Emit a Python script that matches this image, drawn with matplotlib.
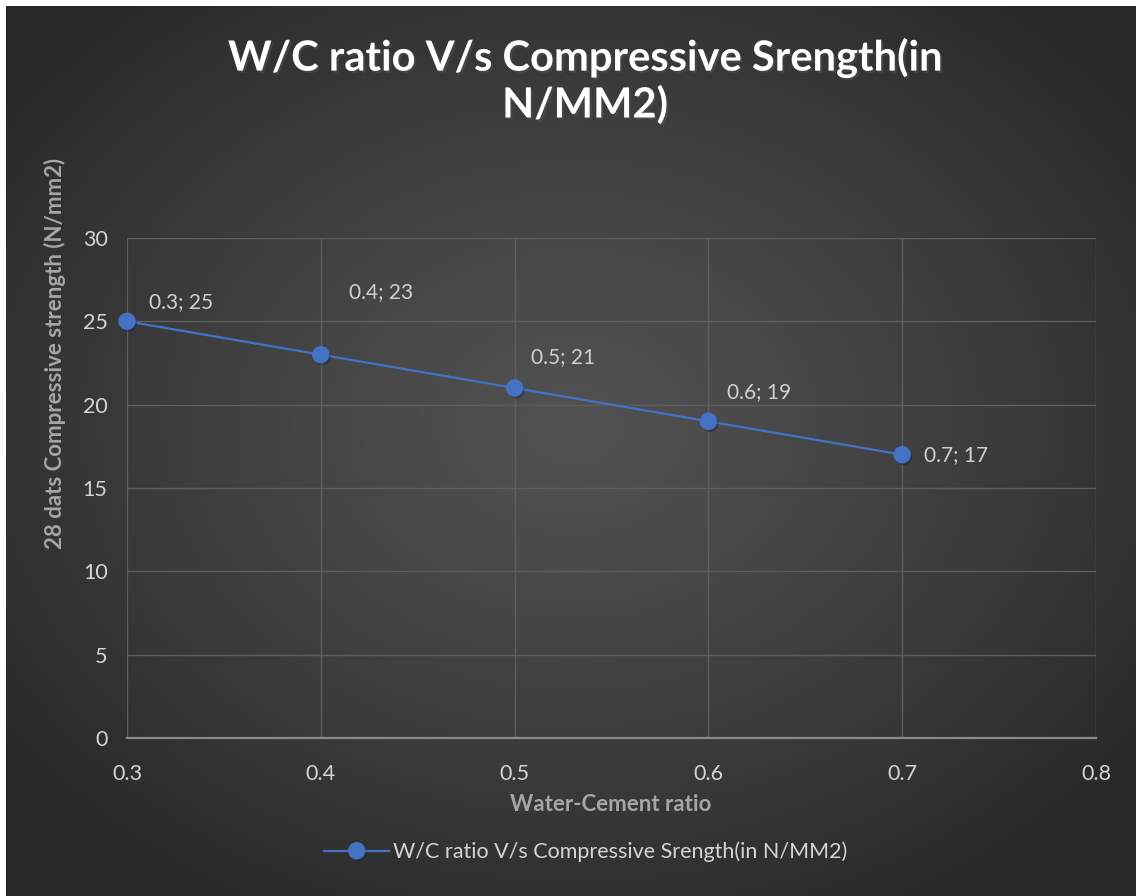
import numpy as np
import matplotlib
matplotlib.use("Agg")
import matplotlib.pyplot as plt
import matplotlib.patheffects as pe

# ---- data ----
wc_ratio = [0.3, 0.4, 0.5, 0.6, 0.7]
strength = [25, 23, 21, 19, 17]
point_labels = ["0.3; 25", "0.4; 23", "0.5; 21", "0.6; 19", "0.7; 17"]
x_ticks = [0.3, 0.4, 0.5, 0.6, 0.7, 0.8]
y_ticks = [0, 5, 10, 15, 20, 25, 30]
title = "W/C ratio V/s Compressive Srength(in\nN/MM2)"
series_name = "W/C ratio V/s Compressive Srength(in N/MM2)"
x_label = "Water-Cement ratio"
y_label = "28 dats Compressive strength (N/mm2)"

# label offsets in pixels (style)
label_offsets = [(22, 19), (28, 63), (16, 31), (19, 29), (22, 0)]

W, H = 1136, 896
fig = plt.figure(figsize=(W / 100, H / 100), dpi=100, facecolor="white")
plt.rcParams['font.family'] = ['Lato', 'DejaVu Sans']

# background radial gradient
bx0, by0 = 6 / W, 0
bg = fig.add_axes([bx0, by0, 1 - bx0, 1 - 6 / H], zorder=0)
ny, nx = 300, 380
yy, xx = np.mgrid[0:ny, 0:nx]
cx, cy = nx * 0.5, ny * 0.47
r = np.sqrt(((xx - cx) / (nx * 0.62)) ** 2 + ((yy - cy) / (ny * 0.62)) ** 2)
r = np.clip(r, 0, 1)
val = 0.32 - (0.32 - 0.16) * r ** 1.2
img = np.dstack([val, val, val])
bg.imshow(img, aspect="auto", extent=[0, 1, 0, 1], interpolation="bilinear")
bg.set_axis_off()

ax = fig.add_axes([127 / W, 1 - 738 / H, (1096 - 127) / W, (738 - 238) / H], zorder=1)
ax.patch.set_alpha(0)

ax.plot(wc_ratio, strength, color="#4472C4", lw=1.6, marker="o", markersize=11.5,
        markerfacecolor="#4472C4", markeredgecolor="#4472C4", zorder=5,
        label=series_name, clip_on=False,
        path_effects=[pe.SimplePatchShadow(offset=(1.5, -2), alpha=0.4), pe.Normal()])

for x, y, lab, (dx, dy) in zip(wc_ratio, strength, point_labels, label_offsets):
    ax.annotate(lab, (x, y), xytext=(dx, dy), textcoords="offset pixels",
                ha="left", va="center", fontsize=15, color="#d0d0d0")

ax.set_xlim(0.3, 0.8)
ax.set_ylim(0, 30)
ax.set_xticks(x_ticks)
ax.set_yticks(y_ticks)
ax.set_xticklabels([f"{t:.1f}" for t in x_ticks])
ax.set_yticklabels([str(t) for t in y_ticks])
ax.grid(True, color="#5e5e5e", lw=1)
ax.set_axisbelow(True)
for s in ["top", "right", "left"]:
    ax.spines[s].set_visible(False)
ax.spines["bottom"].set_color("#8a8a8a")
ax.spines["bottom"].set_linewidth(1.6)
ax.tick_params(length=0, labelsize=15.5, colors="#d4d4d4")
ax.tick_params(axis="y", pad=14)
ax.tick_params(axis="x", pad=19)

fig.text(611 / W, 1 - 804 / H, x_label, ha="center", va="center", fontsize=16,
         fontweight="bold", color="#a6a6a6")
fig.text(55 / W, 1 - 353 / H, y_label, ha="center", va="center", fontsize=16,
         fontweight="bold", color="#a6a6a6", rotation=90)

fig.text(585 / W, 1 - 81 / H, title, ha="center", va="center", fontsize=30,
         fontweight="bold", color="white", linespacing=1.2,
         path_effects=[pe.withSimplePatchShadow(offset=(1.5, -1.5), alpha=0.6)])

leg = fig.legend(loc="center", bbox_to_anchor=(586 / W, 1 - 852 / H), frameon=False,
                 fontsize=15.5, labelcolor="#d4d4d4", handlelength=3.0, handletextpad=0.2,
                 handles=ax.get_lines())

fig.savefig("out.png", dpi=100, facecolor="white")
